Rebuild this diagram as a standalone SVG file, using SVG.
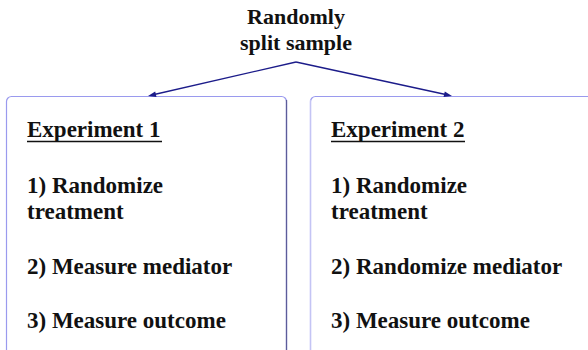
<svg xmlns="http://www.w3.org/2000/svg" width="588" height="350" viewBox="0 0 588 350">
  <rect width="588" height="350" fill="#fff"/>

  <g id="experiment1">
    <rect x="6.5" y="96.5" width="280" height="262" rx="5" fill="#fff" stroke="#9a9aee" stroke-width="1.2"/>
    <line x1="286.5" y1="100" x2="286.5" y2="350" stroke="#5c5c9a" stroke-width="1.3"/>
    <line x1="27" y1="141.5" x2="162" y2="141.5" stroke="#111" stroke-width="1.6"/>
  </g>
  <g id="experiment2">
    <rect x="310.5" y="96.5" width="300" height="262" rx="5" fill="#fff" stroke="#9a9aee" stroke-width="1.2"/>
    <line x1="310.5" y1="100" x2="310.5" y2="350" stroke="#c4c4f4" stroke-width="1.3"/>
    <line x1="331" y1="141.5" x2="465" y2="141.5" stroke="#111" stroke-width="1.6"/>
  </g>

  <!-- arrows from the title down to the two boxes -->
  <g id="connectors" stroke="#1c1c8a" stroke-width="1.3" fill="#1c1c8a">
    <line x1="296" y1="62" x2="152" y2="95"/>
    <polygon points="148,96 155.2,91.6 156.5,97.1" stroke="none"/>
    <line x1="296" y1="62" x2="448" y2="95"/>
    <polygon points="452,96 443.5,97.1 444.8,91.6" stroke="none"/>
  </g>

  <text x="296" y="24" font-family="Liberation Serif" font-weight="bold" font-size="22" text-anchor="middle" fill="#111">Randomly</text>
  <text x="296" y="50" font-family="Liberation Serif" font-weight="bold" font-size="22" text-anchor="middle" fill="#111">split sample</text>

  <text x="27" y="137" font-family="Liberation Serif" font-weight="bold" font-size="23" fill="#111">Experiment 1</text>
  <text x="27" y="193" font-family="Liberation Serif" font-weight="bold" font-size="23" fill="#111">1) Randomize</text>
  <text x="27" y="219" font-family="Liberation Serif" font-weight="bold" font-size="23" fill="#111">treatment</text>
  <text x="27" y="274" font-family="Liberation Serif" font-weight="bold" font-size="23" fill="#111">2) Measure mediator</text>
  <text x="27" y="328" font-family="Liberation Serif" font-weight="bold" font-size="23" fill="#111">3) Measure outcome</text>

  <text x="331" y="137" font-family="Liberation Serif" font-weight="bold" font-size="23" fill="#111">Experiment 2</text>
  <text x="331" y="193" font-family="Liberation Serif" font-weight="bold" font-size="23" fill="#111">1) Randomize</text>
  <text x="331" y="219" font-family="Liberation Serif" font-weight="bold" font-size="23" fill="#111">treatment</text>
  <text x="331" y="274" font-family="Liberation Serif" font-weight="bold" font-size="23" fill="#111">2) Randomize mediator</text>
  <text x="331" y="328" font-family="Liberation Serif" font-weight="bold" font-size="23" fill="#111">3) Measure outcome</text>
</svg>
